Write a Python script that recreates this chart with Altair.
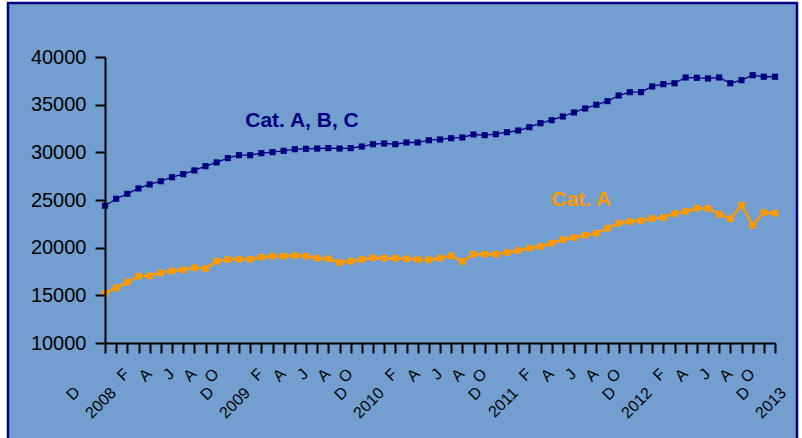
import altair as alt
import pandas as pd

FONT = "Liberation Sans, Arial, sans-serif"
NAVY = "#000080"
ORANGE = "#FF9900"
BG = "#729FCF"

# Months Dec 2007 .. Dec 2012
months = ["2007-12"] + [f"{y}-{m:02d}" for y in range(2008, 2013) for m in range(1, 13)]

month_letters = (["D", "", "F", "", "A", "", "J", "", "A", "", "O", ""] * 5) + ["D"]
year_labels = ["2008"] + [""] * 11 + ["2009"] + [""] * 11 + ["2010"] + [""] * 11 + \
              ["2011"] + [""] * 11 + ["2012"] + [""] * 11 + ["2013"]

cat_abc = [24400, 25130, 25650, 26210, 26630, 26970, 27390, 27710, 28100, 28550,
           28940, 29390, 29700, 29700, 29910, 30020, 30160, 30330, 30370, 30400,
           30440, 30400, 30440, 30610, 30850, 30930, 30850, 31030, 31030, 31270,
           31350, 31480, 31560, 31870, 31800, 31900, 32110, 32290, 32640, 33060,
           33370, 33760, 34180, 34600, 34990, 35370, 35960, 36310, 36310, 36910,
           37150, 37250, 37850, 37820, 37750, 37850, 37250, 37570, 38090, 37930, 37930]

cat_a = [15220, 15790, 16380, 17010, 17050, 17360, 17570, 17680, 17890, 17820,
         18580, 18760, 18790, 18790, 19000, 19110, 19110, 19180, 19110, 18900,
         18830, 18440, 18580, 18760, 18940, 18900, 18900, 18830, 18760, 18730,
         18900, 19150, 18550, 19320, 19320, 19320, 19490, 19700, 19950, 20120,
         20470, 20860, 21070, 21310, 21520, 22040, 22570, 22750, 22850, 23060,
         23170, 23590, 23800, 24140, 24140, 23510, 23030, 24460, 22330, 23690, 23620]

ann_text = ["Cat. A, B, C", "Cat. A"]
ann_month = ["2009-06", "2011-07"]
ann_value = [33270, 25050]
ann_color = [NAVY, ORANGE]

y_ticks = [10000, 15000, 20000, 25000, 30000, 35000, 40000]

df = pd.DataFrame({
    "month": months * 2,
    "value": cat_abc + cat_a,
    "series": ["Cat. A, B, C"] * len(months) + ["Cat. A"] * len(months),
})
ann = pd.DataFrame({"text": ann_text, "month": ann_month, "value": ann_value, "color": ann_color})

months_js = "[" + ",".join(f"'{m}'" for m in months) + "]"
letters_js = "[" + ",".join(f"'{m}'" for m in month_letters) + "]"
years_js = "[" + ",".join(f"'{m}'" for m in year_labels) + "]"
dec_months = [m for m, l in zip(months, month_letters) if l == "D"]
dec_test = "indexof([" + ",".join(f"'{m}'" for m in dec_months) + "], datum.value) >= 0"

x_scale = alt.Scale(type="point", domain=months, padding=0)
y_scale = alt.Scale(domain=[10000, 40000], nice=False, zero=False)

x_axis_months = alt.Axis(
    orient="bottom", title=None, grid=False,
    labelExpr=f"{letters_js}[indexof({months_js}, datum.value)]",
    labelAngle=-45, labelAlign="right", labelBaseline="middle",
    labelFont=FONT, labelFontSize=16, labelColor="black", labelOverlap=False,
    labelOffset={"condition": {"test": dec_test, "value": -28}, "value": -1},
    labelPadding={"condition": {"test": dec_test, "value": 36}, "value": 18},
    tickSize=10, tickWidth=2, tickColor="black",
    domainColor="black", domainWidth=2, zindex=1,
)

x_axis_years = alt.Axis(
    orient="bottom", title=None, grid=False, domain=False,
    labelExpr=f"{years_js}[indexof({months_js}, datum.value)]",
    labelAngle=-45, labelAlign="right", labelBaseline="middle",
    labelFont=FONT, labelFontSize=16, labelColor="black", labelOverlap=False,
    labelOffset=8, labelPadding=37,
    tickSize=10, tickOpacity=0, zindex=1,
)

y_axis = alt.Axis(
    values=y_ticks, format="d", title=None, grid=False,
    labelFont=FONT, labelFontSize=20, labelColor="black", labelPadding=9,
    tickSize=10, tickWidth=2, tickColor="black",
    domainColor="black", domainWidth=2, zindex=1,
)

frame = alt.Chart(alt.Data(values=[{"k": 1}])).mark_rect(
    fill=BG, stroke=NAVY, strokeWidth=2.5
).encode(
    x=alt.value(-97), x2=alt.value(692), y=alt.value(-54), y2=alt.value(395)
)

navy = alt.Chart(df).transform_filter(alt.datum.series == "Cat. A, B, C").mark_line(
    color=NAVY, strokeWidth=1.3,
    point=alt.OverlayMarkDef(shape="square", filled=True, size=38, color=NAVY, opacity=1),
).encode(
    x=alt.X("month:O", scale=x_scale, axis=x_axis_months),
    y=alt.Y("value:Q", scale=y_scale, axis=y_axis),
)

orange = alt.Chart(df).transform_filter(alt.datum.series == "Cat. A").mark_line(
    color=ORANGE, strokeWidth=2.5,
    point=alt.OverlayMarkDef(shape="square", filled=True, size=44, color=ORANGE, opacity=1),
).encode(
    x=alt.X("month:O", scale=x_scale, axis=None),
    y=alt.Y("value:Q", scale=y_scale, axis=y_axis),
)

labels = alt.Chart(ann).mark_text(
    font=FONT, fontSize=21, fontWeight="bold", align="center", baseline="middle", dx=-4
).encode(
    x=alt.X("month:O", scale=x_scale, axis=x_axis_years),
    y=alt.Y("value:Q", scale=y_scale, axis=y_axis),
    text="text:N",
    color=alt.Color("color:N", scale=None),
)

chart = alt.layer(frame, navy, orange, labels).resolve_axis(x="independent").properties(
    width=670, height=286,
    autosize=alt.AutoSizeParams(type="none"),
    padding={"left": 105, "top": 57, "right": 27, "bottom": 95},
    background="white",
).configure_view(stroke=None)

chart.save("out.html", embed_options={"renderer": "svg", "actions": False})
